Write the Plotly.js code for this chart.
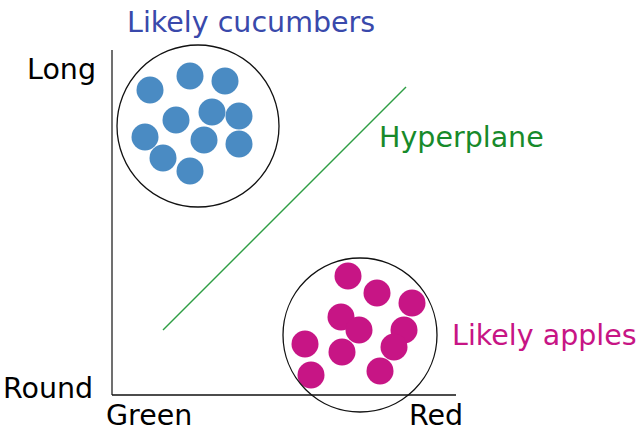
<!DOCTYPE html>
<html>
<head>
<meta charset="utf-8">
<script src="https://cdn.plot.ly/plotly-3.0.1.min.js"></script>
<style>html,body{margin:0;padding:0;background:#fff}#chart{width:638px;height:439px}</style>
</head>
<body>
<div id="chart"></div>
<script>
// Picture coordinates (x right, y down)
const cucumberX = [150, 190, 225, 176, 212, 239, 145, 204, 239, 163, 190];
const cucumberY = [90, 76, 81, 120, 112, 116, 137, 140, 144, 158, 171];
const appleX = [348, 377, 412, 341, 359, 404, 305, 342, 394, 311, 380];
const appleY = [276, 293, 303, 317, 330, 330, 344, 352, 347, 375, 371];
const clusterCx = [198, 360];
const clusterCy = [126, 335];
const clusterR = [81, 77];
const hyperX = [163, 406];
const hyperY = [330, 87];
const axisYx = [112, 112];
const axisYy = [50, 395];
const axisXx = [112, 456];
const axisXy = [395, 395];
const labelText = ["Likely cucumbers", "Hyperplane", "Likely apples", "Long", "Round", "Green", "Red"];
const labelX = [125, 377, 450, 25, 1, 104, 407];
const labelY = [22, 137, 335, 69, 388, 415, 415];
const labelColor = ["#3949ab", "#178a2a", "#c71585", "#000", "#000", "#000", "#000"];

const font = "DejaVu Sans, sans-serif";
const traces = [
  {x: axisYx, y: axisYy, mode: "lines", line: {color: "#707070", width: 2}, hoverinfo: "skip"},
  {x: axisXx, y: axisXy, mode: "lines", line: {color: "#111", width: 1.5}, hoverinfo: "skip"},
  {x: hyperX, y: hyperY, mode: "lines", line: {color: "#2e9e44", width: 1.4}, hoverinfo: "skip"},
  {x: cucumberX, y: cucumberY, mode: "markers", marker: {color: "#4a8bc3", size: 27, line: {width: 0}}},
  {x: appleX, y: appleY, mode: "markers", marker: {color: "#c71585", size: 27, line: {width: 0}}}
];
const shapes = clusterCx.map((cx, i) => ({
  type: "circle", xref: "x", yref: "y",
  x0: cx - clusterR[i], x1: cx + clusterR[i],
  y0: clusterCy[i] - clusterR[i], y1: clusterCy[i] + clusterR[i],
  line: {color: "#111", width: 1.3}, layer: "above"
}));
const annotations = labelText.map((t, i) => ({
  text: t, x: labelX[i], y: labelY[i], xref: "x", yref: "y",
  xanchor: "left", yanchor: "middle", showarrow: false,
  font: {family: font, size: 28.5, color: labelColor[i]}
}));
Plotly.newPlot("chart", traces, {
  width: 638, height: 439,
  margin: {l: 0, r: 0, t: 0, b: 0},
  paper_bgcolor: "#fff", plot_bgcolor: "#fff",
  showlegend: false,
  xaxis: {range: [0, 638], visible: false, fixedrange: true},
  yaxis: {range: [439, 0], visible: false, fixedrange: true},
  shapes: shapes, annotations: annotations
}, {displayModeBar: false, staticPlot: true});
</script>
</body>
</html>
